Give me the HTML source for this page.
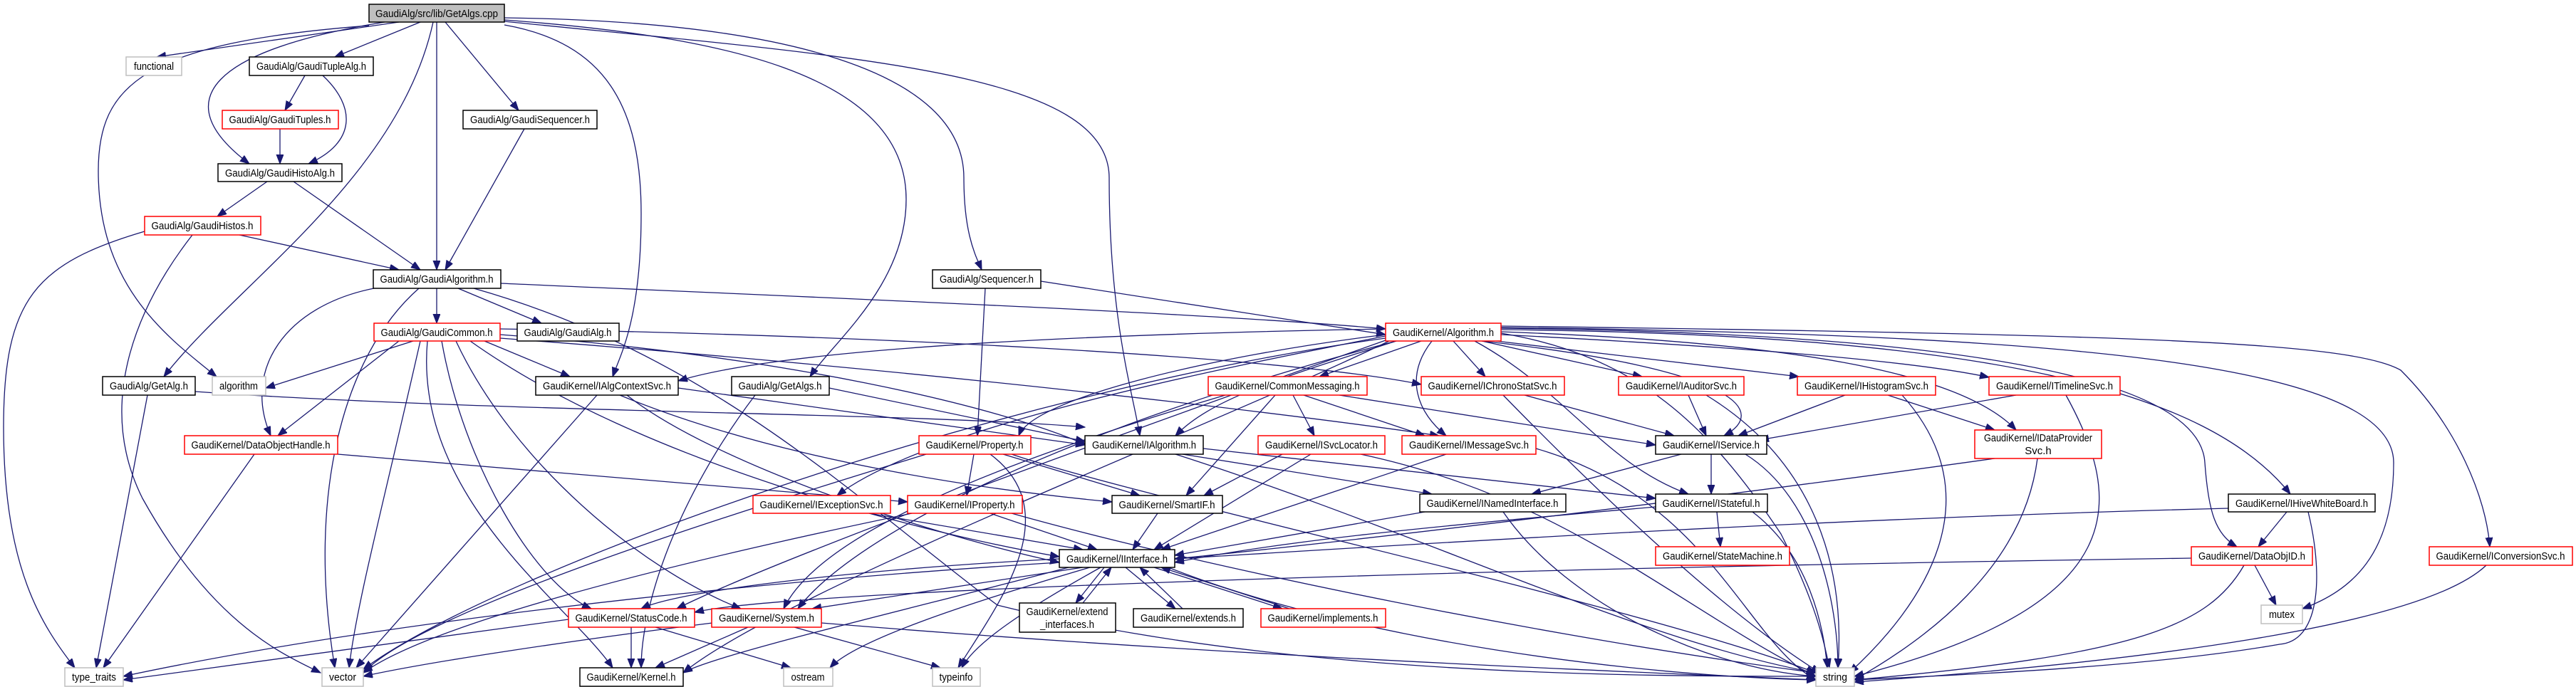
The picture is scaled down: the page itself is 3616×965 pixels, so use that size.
<!DOCTYPE html>
<html><head><meta charset="utf-8"><style>
html,body{margin:0;padding:0;background:#fff;}
svg{display:block;}
text{font-family:"Liberation Sans",sans-serif;font-size:15px;fill:#000;}
.e{fill:none;stroke:#191970;stroke-width:1.3;marker-end:url(#a);}
.b{fill:#fff;stroke:#000;stroke-width:1.5;}
.r{fill:#fff;stroke:#ff0000;stroke-width:1.5;}
.g{fill:#fff;stroke:#bfbfbf;stroke-width:1.5;}
</style></head><body>
<svg width="3616" height="965" viewBox="0 0 3616 965" xmlns="http://www.w3.org/2000/svg">
<defs><marker id="a" markerUnits="userSpaceOnUse" markerWidth="14" markerHeight="12" refX="13" refY="5" orient="auto"><path d="M0,0 L13,5 L0,10 z" fill="#191970" stroke="#191970"/></marker></defs>
<g>
<path class="e" d="M560 31 L220 80"/>
<path class="e" d="M590 31 L470 80"/>
<path class="e" d="M540 31 C300 70 230 140 350 230"/>
<path class="e" d="M613 31 L613 379"/>
<path class="e" d="M625 31 L728 155"/>
<path class="e" d="M608 31 C560 250 330 400 230 529"/>
<path class="e" d="M518 36 C200 60 138 120 138 240 C138 400 230 470 304 529"/>
<path class="e" d="M708 25 C1100 30 1353 100 1353 250 C1353 330 1370 360 1378 379"/>
<path class="e" d="M708 28 C1000 50 1272 100 1272 280 C1272 400 1170 480 1137 529"/>
<path class="e" d="M708 30 C1200 80 1557 100 1557 250 C1557 450 1590 550 1600 612"/>
<path class="e" d="M708 35 C850 60 900 150 900 300 C900 450 870 500 860 529"/>
<path class="e" d="M428 106 L400 155"/>
<path class="e" d="M453 106 C500 150 500 200 433 230"/>
<path class="e" d="M393 181 L393 230"/>
<path class="e" d="M375 255 L305 304"/>
<path class="e" d="M412 255 L590 379"/>
<path class="e" d="M336 330 L560 379"/>
<path class="e" d="M203 325 C50 370 5 420 5 600 C5 800 60 880 105 938"/>
<path class="e" d="M270 330 C200 420 130 560 200 700 C300 880 400 920 450 945"/>
<path class="e" d="M736 181 L625 379"/>
<path class="e" d="M613 405 L613 454"/>
<path class="e" d="M643 405 L760 454"/>
<path class="e" d="M703 398 C1200 420 1700 440 1945 462"/>
<path class="e" d="M525 405 C400 430 340 520 380 612"/>
<path class="e" d="M588 405 C480 500 430 700 470 938"/>
<path class="e" d="M665 405 C1000 500 1200 700 1400 850 C1800 950 2300 950 2549 950"/>
<path class="e" d="M1461 395 L1945 470"/>
<path class="e" d="M1383 405 L1372 612"/>
<path class="e" d="M580 479 L373 545"/>
<path class="e" d="M560 479 L390 612"/>
<path class="e" d="M590 479 C540 700 500 850 490 938"/>
<path class="e" d="M620 479 C650 650 750 820 830 855"/>
<path class="e" d="M640 479 C720 650 900 800 1040 855"/>
<path class="e" d="M660 479 C900 650 1300 750 1487 782"/>
<path class="e" d="M702 470 C1100 500 1400 570 1525 625"/>
<path class="e" d="M702 462 C1200 470 1800 500 1995 540"/>
<path class="e" d="M702 475 C1300 520 1800 580 2020 612"/>
<path class="e" d="M680 479 L800 529"/>
<path class="e" d="M600 479 C580 700 800 850 860 938"/>
<path class="e" d="M207 555 L135 938"/>
<path class="e" d="M274 550 C700 580 1300 580 1523 600"/>
<path class="e" d="M952 545 L1523 625"/>
<path class="e" d="M880 555 C1000 650 1300 750 1487 790"/>
<path class="e" d="M838 555 L500 938"/>
<path class="e" d="M870 555 C1100 650 1400 690 1561 705"/>
<path class="e" d="M1164 545 L1523 620"/>
<path class="e" d="M1060 555 C950 700 900 850 900 938"/>
<path class="e" d="M357 638 L145 938"/>
<path class="e" d="M474 638 L1274 705"/>
<path class="e" d="M1367 638 L1357 696"/>
<path class="e" d="M1408 638 L1600 696"/>
<path class="e" d="M1420 638 C1600 700 2300 850 2549 945"/>
<path class="e" d="M1390 638 C1500 720 1400 850 1345 938"/>
<path class="e" d="M1300 638 C1100 700 600 850 510 945"/>
<path class="e" d="M1995 479 L1852 529"/>
<path class="e" d="M2040 479 L2085 529"/>
<path class="e" d="M2080 479 L2305 529"/>
<path class="e" d="M2100 479 L2525 529"/>
<path class="e" d="M2107 470 C2500 490 2700 510 2792 530"/>
<path class="e" d="M2107 466 C2500 480 2750 520 2830 604"/>
<path class="e" d="M2107 463 C2800 470 3100 550 3215 694"/>
<path class="e" d="M2107 461 C2900 470 3090 560 3095 650 C3100 720 3110 750 3140 768"/>
<path class="e" d="M2107 458 C3000 470 3300 480 3370 520 C3450 600 3490 700 3495 768"/>
<path class="e" d="M2107 460 C2900 470 3360 510 3360 650 C3360 780 3300 830 3232 855"/>
<path class="e" d="M2107 468 C2300 500 2400 600 2500 750 C2550 850 2560 900 2568 938"/>
<path class="e" d="M2080 479 C2450 520 2480 580 2420 612"/>
<path class="e" d="M2070 479 C2200 550 2250 650 2370 694"/>
<path class="e" d="M2010 479 C1970 530 1990 580 2030 612"/>
<path class="e" d="M1945 470 C1700 500 1450 560 1430 612"/>
<path class="e" d="M1960 479 C1800 530 1700 560 1650 612"/>
<path class="e" d="M1945 462 C1500 470 1100 490 952 535"/>
<path class="e" d="M1945 475 C1400 550 700 800 510 940"/>
<path class="e" d="M1945 478 C1600 600 1100 780 950 855"/>
<path class="e" d="M1960 479 C1500 600 1200 750 1120 855"/>
<path class="e" d="M1945 472 C1700 520 1300 600 1175 696"/>
<path class="e" d="M1950 479 C1700 600 1100 830 959 945"/>
<path class="e" d="M1815 555 L1845 612"/>
<path class="e" d="M1830 555 L2000 612"/>
<path class="e" d="M1790 555 L1665 696"/>
<path class="e" d="M1880 555 L2324 625"/>
<path class="e" d="M1720 555 C1400 650 1150 750 1100 855"/>
<path class="e" d="M2140 555 L2350 612"/>
<path class="e" d="M2110 555 C2300 750 2450 880 2555 945"/>
<path class="e" d="M2370 555 L2395 612"/>
<path class="e" d="M2395 555 C2550 650 2590 800 2580 938"/>
<path class="e" d="M2590 555 L2440 612"/>
<path class="e" d="M2650 555 L2800 604"/>
<path class="e" d="M2670 555 C2800 700 2700 850 2596 945"/>
<path class="e" d="M2830 555 L2470 618"/>
<path class="e" d="M2900 555 C2980 700 3000 850 2603 950"/>
<path class="e" d="M2800 644 C2400 700 1900 760 1649 785"/>
<path class="e" d="M2860 644 C2840 800 2700 900 2603 955"/>
<path class="e" d="M1800 638 L1690 696"/>
<path class="e" d="M1840 638 L1620 772"/>
<path class="e" d="M1910 638 C2200 700 2350 850 2549 950"/>
<path class="e" d="M2030 638 L1630 772"/>
<path class="e" d="M2156 630 C2400 700 2450 900 2549 955"/>
<path class="e" d="M2360 638 L2150 694"/>
<path class="e" d="M2402 638 L2402 694"/>
<path class="e" d="M2450 638 C2550 700 2580 850 2580 938"/>
<path class="e" d="M1660 638 L2010 694"/>
<path class="e" d="M1689 630 L2324 700"/>
<path class="e" d="M1650 638 C2000 750 2300 900 2549 945"/>
<path class="e" d="M2000 719 L1649 780"/>
<path class="e" d="M2110 719 C2200 850 2400 940 2549 950"/>
<path class="e" d="M2324 712 C2000 740 1800 760 1649 790"/>
<path class="e" d="M2410 719 L2415 768"/>
<path class="e" d="M2460 719 C2540 780 2560 880 2565 938"/>
<path class="e" d="M3128 714 C2500 730 1900 770 1649 785"/>
<path class="e" d="M3210 719 L3170 768"/>
<path class="e" d="M3240 719 C3260 800 3260 900 3200 905 C3000 940 2700 950 2603 955"/>
<path class="e" d="M3165 794 L3195 850"/>
<path class="e" d="M3150 794 C3100 880 3000 920 2603 955"/>
<path class="e" d="M3076 784 C2000 800 1100 830 975 860"/>
<path class="e" d="M3490 794 C3400 880 3000 930 2603 958"/>
<path class="e" d="M1220 721 L1520 772"/>
<path class="e" d="M1390 721 L1540 772"/>
<path class="e" d="M1420 721 C1700 800 2200 900 2549 945"/>
<path class="e" d="M1280 721 C900 800 600 880 510 945"/>
<path class="e" d="M1625 721 L1590 772"/>
<path class="e" d="M1487 785 C1200 800 950 830 900 855"/>
<path class="e" d="M1520 797 L1140 855"/>
<path class="e" d="M1500 797 C1300 850 1000 920 959 945"/>
<path class="e" d="M1550 797 L1510 847"/>
<path class="e" d="M1580 797 L1650 855"/>
<path class="e" d="M1620 797 L1800 855"/>
<path class="e" d="M1530 797 C1350 850 1200 900 1165 938"/>
<path class="e" d="M1545 797 C1450 850 1370 900 1350 938"/>
<path class="e" d="M1640 797 C1900 900 2300 950 2549 955"/>
<path class="e" d="M1487 790 C1000 820 500 880 173 950"/>
<path class="e" d="M1520 847 L1560 797"/>
<path class="e" d="M1660 855 L1600 797"/>
<path class="e" d="M1810 855 L1630 797"/>
<path class="e" d="M886 881 L886 938"/>
<path class="e" d="M920 881 L1110 938"/>
<path class="e" d="M798 870 L173 955"/>
<path class="e" d="M1050 881 L920 938"/>
<path class="e" d="M1000 875 C800 900 600 930 510 950"/>
<path class="e" d="M1115 881 L1320 938"/>
<path class="e" d="M1153 875 C1700 920 2200 940 2549 955"/>
</g>
<g>
<rect x="518" y="6" width="190" height="25" fill="#bfbfbf" stroke="#000" stroke-width="1.5"/><text x="613" y="24" text-anchor="middle" textLength="172" lengthAdjust="spacingAndGlyphs">GaudiAlg/src/lib/GetAlgs.cpp</text>
<rect class="g" x="177" y="80" width="78" height="26"/><text x="216" y="98" text-anchor="middle" textLength="56" lengthAdjust="spacingAndGlyphs">functional</text>
<rect class="b" x="350" y="80" width="174" height="26"/><text x="437" y="98" text-anchor="middle" textLength="154" lengthAdjust="spacingAndGlyphs">GaudiAlg/GaudiTupleAlg.h</text>
<rect class="b" x="650" y="155" width="188" height="26"/><text x="744" y="173" text-anchor="middle" textLength="168" lengthAdjust="spacingAndGlyphs">GaudiAlg/GaudiSequencer.h</text>
<rect class="r" x="312" y="155" width="163" height="26"/><text x="393" y="173" text-anchor="middle" textLength="143" lengthAdjust="spacingAndGlyphs">GaudiAlg/GaudiTuples.h</text>
<rect class="b" x="306" y="230" width="174" height="25"/><text x="393" y="248" text-anchor="middle" textLength="154" lengthAdjust="spacingAndGlyphs">GaudiAlg/GaudiHistoAlg.h</text>
<rect class="r" x="203" y="304" width="163" height="26"/><text x="284" y="322" text-anchor="middle" textLength="143" lengthAdjust="spacingAndGlyphs">GaudiAlg/GaudiHistos.h</text>
<rect class="b" x="524" y="379" width="179" height="26"/><text x="613" y="397" text-anchor="middle" textLength="159" lengthAdjust="spacingAndGlyphs">GaudiAlg/GaudiAlgorithm.h</text>
<rect class="b" x="1309" y="379" width="152" height="26"/><text x="1385" y="397" text-anchor="middle" textLength="132" lengthAdjust="spacingAndGlyphs">GaudiAlg/Sequencer.h</text>
<rect class="r" x="525" y="454" width="177" height="25"/><text x="613" y="472" text-anchor="middle" textLength="157" lengthAdjust="spacingAndGlyphs">GaudiAlg/GaudiCommon.h</text>
<rect class="b" x="726" y="454" width="143" height="25"/><text x="797" y="472" text-anchor="middle" textLength="123" lengthAdjust="spacingAndGlyphs">GaudiAlg/GaudiAlg.h</text>
<rect class="r" x="1945" y="454" width="162" height="25"/><text x="2026" y="472" text-anchor="middle" textLength="142" lengthAdjust="spacingAndGlyphs">GaudiKernel/Algorithm.h</text>
<rect class="b" x="144" y="529" width="130" height="26"/><text x="209" y="547" text-anchor="middle" textLength="110" lengthAdjust="spacingAndGlyphs">GaudiAlg/GetAlg.h</text>
<rect class="g" x="298" y="529" width="75" height="26"/><text x="335" y="547" text-anchor="middle" textLength="54" lengthAdjust="spacingAndGlyphs">algorithm</text>
<rect class="b" x="752" y="529" width="200" height="26"/><text x="852" y="547" text-anchor="middle" textLength="180" lengthAdjust="spacingAndGlyphs">GaudiKernel/IAlgContextSvc.h</text>
<rect class="b" x="1027" y="529" width="137" height="26"/><text x="1095" y="547" text-anchor="middle" textLength="117" lengthAdjust="spacingAndGlyphs">GaudiAlg/GetAlgs.h</text>
<rect class="r" x="1696" y="529" width="223" height="26"/><text x="1807" y="547" text-anchor="middle" textLength="203" lengthAdjust="spacingAndGlyphs">GaudiKernel/CommonMessaging.h</text>
<rect class="r" x="1995" y="529" width="201" height="26"/><text x="2095" y="547" text-anchor="middle" textLength="181" lengthAdjust="spacingAndGlyphs">GaudiKernel/IChronoStatSvc.h</text>
<rect class="r" x="2272" y="529" width="176" height="26"/><text x="2360" y="547" text-anchor="middle" textLength="156" lengthAdjust="spacingAndGlyphs">GaudiKernel/IAuditorSvc.h</text>
<rect class="r" x="2523" y="529" width="194" height="26"/><text x="2620" y="547" text-anchor="middle" textLength="174" lengthAdjust="spacingAndGlyphs">GaudiKernel/IHistogramSvc.h</text>
<rect class="r" x="2792" y="529" width="184" height="26"/><text x="2884" y="547" text-anchor="middle" textLength="164" lengthAdjust="spacingAndGlyphs">GaudiKernel/ITimelineSvc.h</text>
<rect class="r" x="259" y="612" width="215" height="26"/><text x="366" y="630" text-anchor="middle" textLength="195" lengthAdjust="spacingAndGlyphs">GaudiKernel/DataObjectHandle.h</text>
<rect class="r" x="1290" y="612" width="157" height="26"/><text x="1368" y="630" text-anchor="middle" textLength="137" lengthAdjust="spacingAndGlyphs">GaudiKernel/Property.h</text>
<rect class="b" x="1523" y="612" width="166" height="26"/><text x="1606" y="630" text-anchor="middle" textLength="146" lengthAdjust="spacingAndGlyphs">GaudiKernel/IAlgorithm.h</text>
<rect class="r" x="1766" y="612" width="178" height="26"/><text x="1855" y="630" text-anchor="middle" textLength="158" lengthAdjust="spacingAndGlyphs">GaudiKernel/ISvcLocator.h</text>
<rect class="r" x="1968" y="612" width="188" height="26"/><text x="2062" y="630" text-anchor="middle" textLength="168" lengthAdjust="spacingAndGlyphs">GaudiKernel/IMessageSvc.h</text>
<rect class="b" x="2324" y="612" width="156" height="26"/><text x="2402" y="630" text-anchor="middle" textLength="136" lengthAdjust="spacingAndGlyphs">GaudiKernel/IService.h</text>
<rect class="r" x="2772" y="604" width="178" height="40"/><text x="2861" y="620" text-anchor="middle" textLength="152" lengthAdjust="spacingAndGlyphs">GaudiKernel/IDataProvider</text><text x="2861" y="638" text-anchor="middle">Svc.h</text>
<rect class="r" x="1057" y="696" width="193" height="25"/><text x="1153" y="714" text-anchor="middle" textLength="173" lengthAdjust="spacingAndGlyphs">GaudiKernel/IExceptionSvc.h</text>
<rect class="r" x="1274" y="696" width="161" height="25"/><text x="1354" y="714" text-anchor="middle" textLength="141" lengthAdjust="spacingAndGlyphs">GaudiKernel/IProperty.h</text>
<rect class="b" x="1561" y="696" width="155" height="25"/><text x="1638" y="714" text-anchor="middle" textLength="135" lengthAdjust="spacingAndGlyphs">GaudiKernel/SmartIF.h</text>
<rect class="b" x="1993" y="694" width="205" height="25"/><text x="2095" y="712" text-anchor="middle" textLength="185" lengthAdjust="spacingAndGlyphs">GaudiKernel/INamedInterface.h</text>
<rect class="b" x="2324" y="694" width="157" height="25"/><text x="2402" y="712" text-anchor="middle" textLength="137" lengthAdjust="spacingAndGlyphs">GaudiKernel/IStateful.h</text>
<rect class="b" x="3128" y="694" width="206" height="25"/><text x="3231" y="712" text-anchor="middle" textLength="186" lengthAdjust="spacingAndGlyphs">GaudiKernel/IHiveWhiteBoard.h</text>
<rect class="b" x="1487" y="772" width="162" height="25"/><text x="1568" y="790" text-anchor="middle" textLength="142" lengthAdjust="spacingAndGlyphs">GaudiKernel/IInterface.h</text>
<rect class="r" x="2324" y="768" width="188" height="26"/><text x="2418" y="786" text-anchor="middle" textLength="168" lengthAdjust="spacingAndGlyphs">GaudiKernel/StateMachine.h</text>
<rect class="r" x="3076" y="768" width="170" height="26"/><text x="3161" y="786" text-anchor="middle" textLength="150" lengthAdjust="spacingAndGlyphs">GaudiKernel/DataObjID.h</text>
<rect class="r" x="3410" y="768" width="201" height="26"/><text x="3510" y="786" text-anchor="middle" textLength="181" lengthAdjust="spacingAndGlyphs">GaudiKernel/IConversionSvc.h</text>
<rect class="r" x="798" y="855" width="177" height="26"/><text x="886" y="873" text-anchor="middle" textLength="157" lengthAdjust="spacingAndGlyphs">GaudiKernel/StatusCode.h</text>
<rect class="r" x="999" y="855" width="154" height="26"/><text x="1076" y="873" text-anchor="middle" textLength="134" lengthAdjust="spacingAndGlyphs">GaudiKernel/System.h</text>
<rect class="b" x="1431" y="847" width="135" height="41"/><text x="1498" y="864" text-anchor="middle" textLength="115" lengthAdjust="spacingAndGlyphs">GaudiKernel/extend</text><text x="1498" y="882" text-anchor="middle" textLength="76" lengthAdjust="spacingAndGlyphs">_interfaces.h</text>
<rect class="b" x="1591" y="855" width="154" height="26"/><text x="1668" y="873" text-anchor="middle" textLength="134" lengthAdjust="spacingAndGlyphs">GaudiKernel/extends.h</text>
<rect class="r" x="1770" y="855" width="175" height="26"/><text x="1857" y="873" text-anchor="middle" textLength="155" lengthAdjust="spacingAndGlyphs">GaudiKernel/implements.h</text>
<rect class="g" x="3174" y="850" width="58" height="26"/><text x="3203" y="868" text-anchor="middle" textLength="36" lengthAdjust="spacingAndGlyphs">mutex</text>
<rect class="g" x="91" y="938" width="82" height="26"/><text x="132" y="956" text-anchor="middle" textLength="62" lengthAdjust="spacingAndGlyphs">type_traits</text>
<rect class="g" x="452" y="938" width="58" height="26"/><text x="481" y="956" text-anchor="middle" textLength="38" lengthAdjust="spacingAndGlyphs">vector</text>
<rect class="b" x="814" y="938" width="145" height="26"/><text x="886" y="956" text-anchor="middle" textLength="125" lengthAdjust="spacingAndGlyphs">GaudiKernel/Kernel.h</text>
<rect class="g" x="1100" y="938" width="69" height="26"/><text x="1134" y="956" text-anchor="middle" textLength="47" lengthAdjust="spacingAndGlyphs">ostream</text>
<rect class="g" x="1309" y="938" width="67" height="26"/><text x="1342" y="956" text-anchor="middle" textLength="47" lengthAdjust="spacingAndGlyphs">typeinfo</text>
<rect class="g" x="2549" y="938" width="54" height="26"/><text x="2576" y="956" text-anchor="middle" textLength="34" lengthAdjust="spacingAndGlyphs">string</text>
</g>
</svg>
</body></html>
